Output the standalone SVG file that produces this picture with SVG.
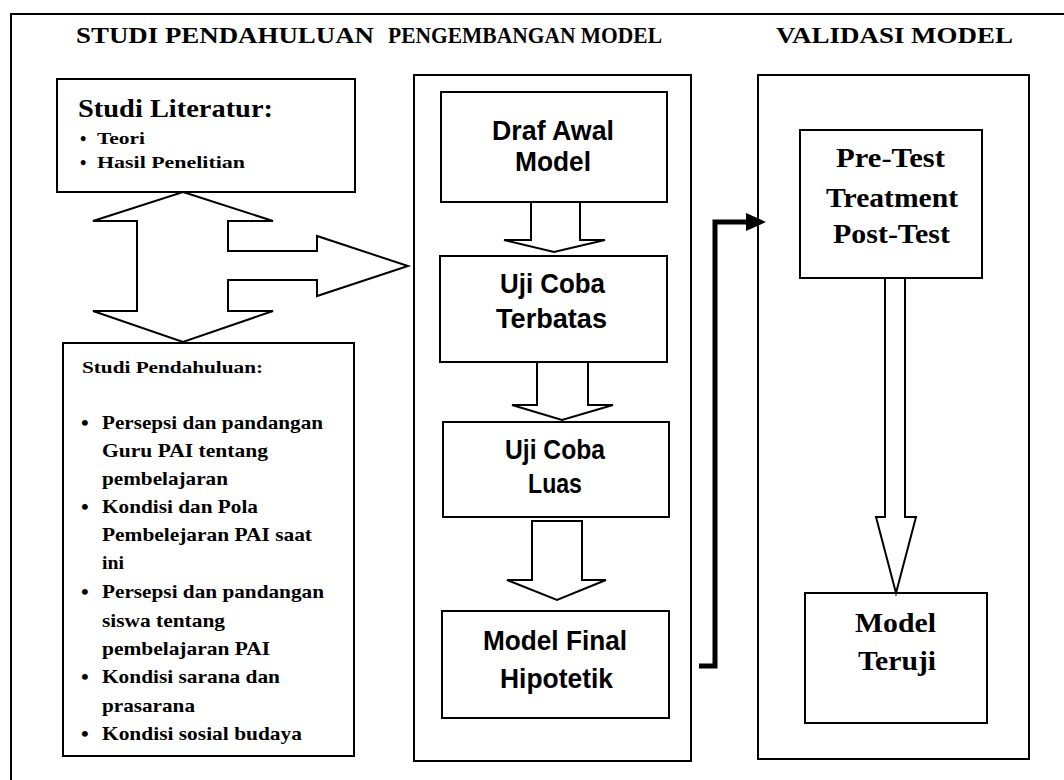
<svg xmlns="http://www.w3.org/2000/svg" width="1064" height="780" viewBox="0 0 1064 780">
<defs>
<style>
.frame{fill:none;stroke:#000;stroke-width:2}
.box{fill:#fff;stroke:#000;stroke-width:2}
.blk{fill:#fff;stroke:#000;stroke-width:2;stroke-linejoin:miter}
.thick{fill:none;stroke:#000;stroke-width:5;stroke-linejoin:miter}
.hd{font-family:"Liberation Serif","Times New Roman",serif;font-weight:bold;font-size:23px;fill:#000}
.sf{font-family:"Liberation Serif","Times New Roman",serif;font-weight:bold;fill:#000}
.ss{font-family:"Liberation Sans",Arial,sans-serif;font-weight:bold;font-size:27px;fill:#000}
.lst{font-size:19px}
.bul{font-size:22px}
.vt{font-size:27px}
</style>
<marker id="ah" viewBox="0 0 20 18" refX="4" refY="9" markerWidth="20" markerHeight="18" markerUnits="userSpaceOnUse" orient="auto">
<path d="M0,0 L20,9 L0,18 z" fill="#000"/>
</marker>
</defs>
<rect width="1064" height="780" fill="#fff"/>
<rect class="frame" x="11" y="14" width="1100" height="800"/>

<g id="headings">
<text class="hd" x="76" y="43" textLength="298" lengthAdjust="spacingAndGlyphs">STUDI PENDAHULUAN</text>
<text class="hd" x="388" y="43" textLength="274" lengthAdjust="spacingAndGlyphs">PENGEMBANGAN MODEL</text>
<text class="hd" x="776" y="43" textLength="237" lengthAdjust="spacingAndGlyphs">VALIDASI MODEL</text>
</g>

<g id="studi-literatur">
<rect class="box" x="57" y="79" width="298" height="113"/>
<text class="sf" x="78" y="117" font-size="26" textLength="195" lengthAdjust="spacingAndGlyphs">Studi Literatur:</text>
<text class="sf" x="80" y="145" font-size="18">•</text>
<text class="sf" x="97" y="144" font-size="16" textLength="48" lengthAdjust="spacingAndGlyphs">Teori</text>
<text class="sf" x="80" y="169" font-size="18">•</text>
<text class="sf" x="97" y="168" font-size="16" textLength="148" lengthAdjust="spacingAndGlyphs">Hasil  Penelitian</text>
</g>

<g id="studi-pendahuluan">
<rect class="box" x="63" y="343" width="291" height="413"/>
<text class="sf" x="82" y="373" font-size="17" textLength="181" lengthAdjust="spacingAndGlyphs">Studi Pendahuluan:</text>
<g class="sf lst">
<text class="bul" x="81" y="430">•</text>
<text x="102" y="429" textLength="221" lengthAdjust="spacingAndGlyphs">Persepsi dan pandangan</text>
<text x="102" y="457" textLength="166" lengthAdjust="spacingAndGlyphs">Guru PAI tentang</text>
<text x="102" y="485" textLength="126" lengthAdjust="spacingAndGlyphs">pembelajaran</text>
<text class="bul" x="81" y="514">•</text>
<text x="102" y="513" textLength="156" lengthAdjust="spacingAndGlyphs">Kondisi dan Pola</text>
<text x="102" y="541" textLength="210" lengthAdjust="spacingAndGlyphs">Pembelejaran PAI saat</text>
<text x="102" y="569" textLength="22" lengthAdjust="spacingAndGlyphs">ini</text>
<text class="bul" x="81" y="599">•</text>
<text x="102" y="598" textLength="222" lengthAdjust="spacingAndGlyphs">Persepsi dan pandangan</text>
<text x="102" y="627" textLength="123" lengthAdjust="spacingAndGlyphs">siswa tentang</text>
<text x="102" y="655" textLength="168" lengthAdjust="spacingAndGlyphs">pembelajaran PAI</text>
<text class="bul" x="81" y="684">•</text>
<text x="102" y="683" textLength="178" lengthAdjust="spacingAndGlyphs">Kondisi sarana dan</text>
<text x="102" y="712" textLength="93" lengthAdjust="spacingAndGlyphs">prasarana</text>
<text class="bul" x="81" y="741">•</text>
<text x="102" y="740" textLength="200" lengthAdjust="spacingAndGlyphs">Kondisi sosial budaya</text>
</g>
</g>

<g id="pengembangan">
<rect class="box" x="414" y="75" width="277" height="686"/>
</g>

<g id="draf-awal">
<rect class="box" x="441" y="92" width="226" height="110"/>
<text class="ss" x="492" y="140" textLength="122" lengthAdjust="spacingAndGlyphs">Draf Awal</text>
<text class="ss" x="515" y="171" textLength="76" lengthAdjust="spacingAndGlyphs">Model</text>
</g>

<g id="uji-terbatas">
<rect class="box" x="440" y="256" width="227" height="106"/>
<text class="ss" x="500" y="293" textLength="105" lengthAdjust="spacingAndGlyphs">Uji Coba</text>
<text class="ss" x="496" y="328" textLength="111" lengthAdjust="spacingAndGlyphs">Terbatas</text>
</g>

<g id="uji-luas">
<rect class="box" x="443" y="422" width="226" height="95"/>
<text class="ss" x="505" y="459" textLength="100" lengthAdjust="spacingAndGlyphs">Uji Coba</text>
<text class="ss" x="528" y="493" textLength="54" lengthAdjust="spacingAndGlyphs">Luas</text>
</g>

<g id="model-final">
<rect class="box" x="442" y="611" width="227" height="107"/>
<text class="ss" x="483" y="650" textLength="144" lengthAdjust="spacingAndGlyphs">Model Final</text>
<text class="ss" x="500" y="688" textLength="113" lengthAdjust="spacingAndGlyphs">Hipotetik</text>
</g>

<g id="validasi">
<rect class="box" x="758" y="75" width="271" height="684"/>
</g>

<g id="pretest">
<rect class="box" x="800" y="130" width="182" height="148"/>
<text class="sf vt" x="836" y="167" textLength="109" lengthAdjust="spacingAndGlyphs">Pre-Test</text>
<text class="sf vt" x="826" y="207" textLength="132" lengthAdjust="spacingAndGlyphs">Treatment</text>
<text class="sf vt" x="833" y="243" textLength="117" lengthAdjust="spacingAndGlyphs">Post-Test</text>
</g>

<g id="model-teruji">
<rect class="box" x="805" y="593" width="182" height="130"/>
<text class="sf vt" x="855" y="632" textLength="81" lengthAdjust="spacingAndGlyphs">Model</text>
<text class="sf vt" x="858" y="670" textLength="78" lengthAdjust="spacingAndGlyphs">Teruji</text>
</g>

<g id="connectors">
<polygon class="blk" points="183,192 273,221 228,221 228,251 317,251 317,236 408,266 317,296 317,280 228,280 228,311 273,311 183,342 93,311 137,311 137,221 93,221"/>
<polygon class="blk" points="531,202 580,202 580,240 605,240 554,252 504,240 531,240"/>
<polygon class="blk" points="537,362 588,362 588,405 613,405 562,420 512,405 537,405"/>
<polygon class="blk" points="532,521 582,521 582,580 606,580 557,600 507,580 532,580"/>
<polygon class="blk" points="885,278 905,278 905,517 916,517 896,593 876,517 885,517"/>
<path class="thick" d="M699,666 H715 V222 H750" marker-end="url(#ah)"/>
</g>
</svg>
